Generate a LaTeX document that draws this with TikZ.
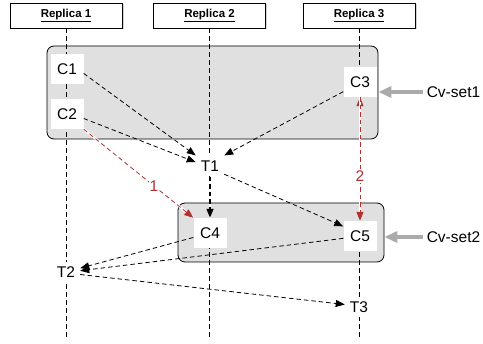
\documentclass[tikz,border=0pt]{standalone}
\usepackage{fontspec}
\setmainfont{Liberation Sans}
\usepackage{tikz}
\usetikzlibrary{arrows.meta, positioning, shadows}
\tikzset{>={Triangle[width=7pt,length=9pt]}}
\definecolor{msgred}{RGB}{178,48,48}
\definecolor{setgray}{RGB}{224,224,224}
\definecolor{pointgray}{RGB}{170,170,170}

\begin{document}
\begin{tikzpicture}[x=1pt, y=-1pt,
  replica/.style = {draw, thick, fill=white, minimum width=112pt, minimum height=25pt,
    font=\fontsize{11.5}{13}\selectfont\bfseries,
    drop shadow={shadow xshift=1.5pt, shadow yshift=-1.5pt, opacity=0.35}},
  cvset/.style = {draw, thick, fill=setgray, rounded corners=7pt},
  version/.style = {fill=white, minimum width=33pt, minimum height=30pt, font=\fontsize{15.5}{17}\selectfont},
  txn/.style = {fill=white, inner sep=5pt, font=\fontsize{15.5}{17}\selectfont},
  lifeline/.style = {line width=0.8pt, dash pattern=on 4.5pt off 3.5pt},
  msg/.style = {->, line width=0.8pt, dash pattern=on 4.5pt off 3pt},
  blank/.style = {preaction={draw=white, solid, line width=2.5pt, arrows=-}},
  pointer/.style = {-{Triangle[width=11pt,length=13pt]}, draw=pointgray, line width=3.5pt}]
	\useasboundingbox (0,0) rectangle (483,344);
	\node[replica] (r1) at (66,15.5) {\underline{Replica 1}};
	\node[replica] (r2) at (209.5,15.5) {\underline{Replica 2}};
	\node[replica] (r3) at (359,15.5) {\underline{Replica 3}};
	\node[cvset, minimum width=331pt, minimum height=93pt] (set1) at (212.5,92.5) {};
	\node[cvset, minimum width=206pt, minimum height=59pt] (set2) at (281,232.5) {};
	\coordinate (bot) at (0,340);
	\draw[lifeline] (r1.south) -- (r1.south |- bot);
	\draw[lifeline] (r2.south) -- (r2.south |- bot);
	\draw[lifeline] (r3.south) -- (r3.south |- bot);
	\node[version] (c1) at (67,69) {C1};
	\node[version] (c2) at (67,114) {C2};
	\node[version] (c3) at (360,82) {C3};
	\node[version] (c4) at (210,233) {C4};
	\node[version] (c5) at (360,236) {C5};
	\node[txn] (t1) at (210,166) {T1};
	\node[txn] (t2) at (66,272) {T2};
	\node[txn] (t3) at (359,307) {T3};
	\node[font=\fontsize{15.5}{17}\selectfont] (cv1) at (453.5,92) {Cv-set1};
	\node[font=\fontsize{15.5}{17}\selectfont] (cv2) at (453.5,237) {Cv-set2};
	\path[msg]
	(c1.-15) edge (t1.north west)
	(c2.-15) edge (t1.165)
	(c3.-150) edge (t1.north east)
	(t1.south) edge [blank, line width=1.3pt] (c4.north)
	(t1.-30) edge (c5.150)
	(c4.-165) edge (t2.15)
	(c5.-172) edge (t2.5)
	(t2.-10) edge (t3.170);
	\path[msg, draw=msgred, msgred]
	(c2.south east) edge [blank] node [pos=0.64, fill=white, inner sep=1pt, font=\fontsize{15.5}{17}\selectfont] (l1) {1} (c4.north west)
	(c3.south) edge [blank] node [pos=0.64, fill=white, inner sep=1pt, font=\fontsize{15.5}{17}\selectfont] (l2) {2} (c5.north);
	\draw[pointer] (cv1.west) -- (cv1.west -| set1.east);
	\draw[pointer] (cv2.west) -- (cv2.west -| set2.east);
\end{tikzpicture}
\end{document}
